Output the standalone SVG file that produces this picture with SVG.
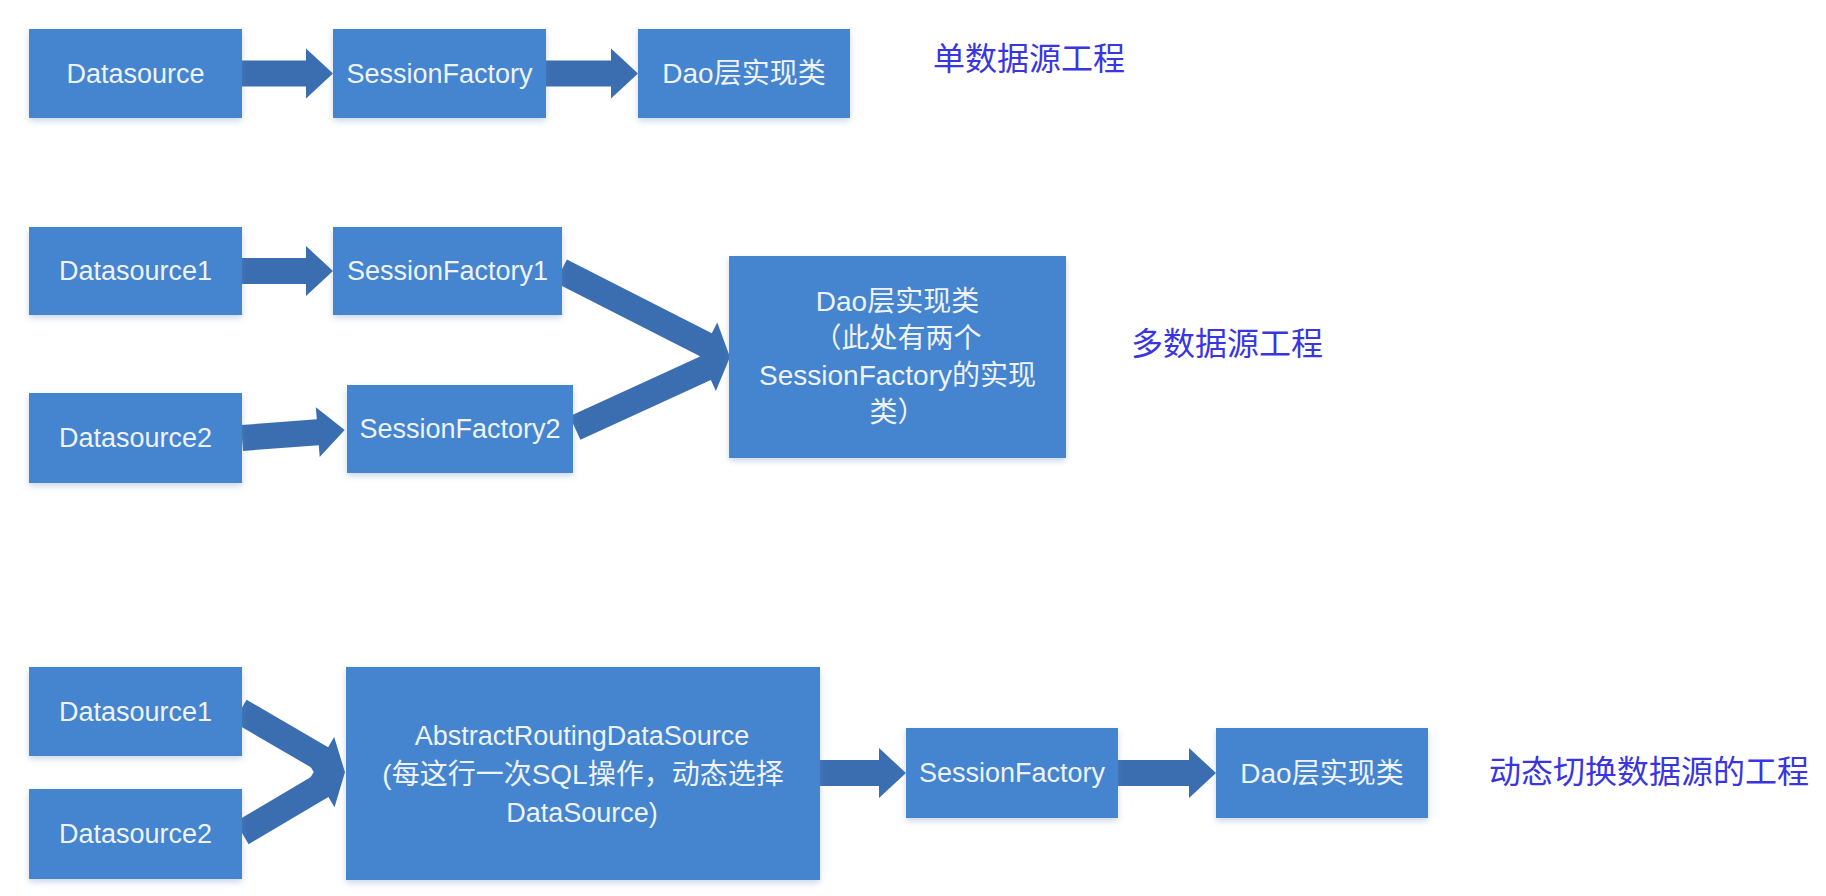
<svg xmlns="http://www.w3.org/2000/svg" width="1826" height="896" viewBox="0 0 1826 896">
  <defs>
    <filter id="sh" x="-10%" y="-10%" width="120%" height="130%">
      <feDropShadow dx="0" dy="3" stdDeviation="3" flood-color="#6a8fc0" flood-opacity="0.35"/>
    </filter>
  </defs>
  <style>
    .box { fill: #4584ce; filter: url(#sh); }
    .arr { fill: #3a6eb1; }
    .lbl { font-family: "Liberation Sans", "Noto Sans CJK SC", sans-serif; font-size: 27px; fill: #eef3fa; text-anchor: middle; }
    .cjk { font-size: 28px; }
    .title { font-family: "Noto Sans CJK SC", "Noto Sans", sans-serif; font-size: 32px; fill: #3a35e0; }
  </style>
  <rect width="1826" height="896" fill="#ffffff"/>

  <g id="connectors">
    <!-- single datasource -->
    <path class="arr" transform="translate(242,73.5)" d="M0,-13 H64 V-25 L91,0 L64,25 V13 H0 Z"/>
    <path class="arr" transform="translate(546,73.5)" d="M0,-13 H65 V-25 L92,0 L65,25 V13 H0 Z"/>
    <!-- multi datasource -->
    <path class="arr" transform="translate(242,271)" d="M0,-13 H64 V-25 L91,0 L64,25 V13 H0 Z"/>
    <path class="arr" transform="translate(242,438) rotate(-4.4)" d="M0,-13 H76 V-25 L103,0 L76,25 V13 H0 Z"/>
    <path class="arr" transform="translate(561,271) rotate(26.97)" d="M0,-13 H162.6 V-25 L189.6,0 L162.6,25 V13 H0 Z"/>
    <path class="arr" transform="translate(575,428) rotate(-24.6)" d="M0,-13 H143.5 V-25 L170.5,0 L143.5,25 V13 H0 Z"/>
    <!-- dynamic datasource -->
    <path class="arr" transform="translate(240,711) rotate(30.2)" d="M0,-13 H94.4 V-25 L121.4,0 L94.4,25 V13 H0 Z"/>
    <path class="arr" transform="translate(242,833) rotate(-30.6)" d="M0,-13 H92.7 V-25 L119.7,0 L92.7,25 V13 H0 Z"/>
    <path class="arr" transform="translate(820,773)" d="M0,-13 H59 V-25 L86,0 L59,25 V13 H0 Z"/>
    <path class="arr" transform="translate(1118,773)" d="M0,-13 H71 V-25 L98,0 L71,25 V13 H0 Z"/>
  </g>

  <!-- single datasource project -->
  <g id="s-datasource">
    <rect class="box" x="29" y="29" width="213" height="89"/>
    <text class="lbl" x="135.5" y="82.5">Datasource</text>
  </g>
  <g id="s-sessionfactory">
    <rect class="box" x="333" y="29" width="213" height="89"/>
    <text class="lbl" x="439.5" y="82.5">SessionFactory</text>
  </g>
  <g id="s-dao">
    <rect class="box" x="638" y="29" width="212" height="89"/>
    <text class="lbl cjk" x="744" y="83">Dao层实现类</text>
  </g>
  <g id="t-single">
    <text class="title" x="933" y="70">单数据源工程</text>
  </g>

  <!-- multi datasource project -->
  <g id="m-datasource1">
    <rect class="box" x="29" y="227" width="213" height="88"/>
    <text class="lbl" x="135.5" y="280">Datasource1</text>
  </g>
  <g id="m-sessionfactory1">
    <rect class="box" x="333" y="227" width="229" height="88"/>
    <text class="lbl" x="447.5" y="280">SessionFactory1</text>
  </g>
  <g id="m-datasource2">
    <rect class="box" x="29" y="393" width="213" height="90"/>
    <text class="lbl" x="135.5" y="447">Datasource2</text>
  </g>
  <g id="m-sessionfactory2">
    <rect class="box" x="347" y="385" width="226" height="88"/>
    <text class="lbl" x="460" y="438">SessionFactory2</text>
  </g>
  <g id="m-dao">
    <rect class="box" x="729" y="256" width="337" height="202"/>
    <text class="lbl cjk" x="897.5" y="311">Dao层实现类</text>
    <text class="lbl cjk" x="897.5" y="348">（此处有两个</text>
    <text class="lbl cjk" x="897.5" y="385">SessionFactory的实现</text>
    <text class="lbl cjk" x="897.5" y="422">类）</text>
  </g>
  <g id="t-multi">
    <text class="title" x="1131" y="355">多数据源工程</text>
  </g>

  <!-- dynamic switching project -->
  <g id="d-datasource1">
    <rect class="box" x="29" y="667" width="213" height="89"/>
    <text class="lbl" x="135.5" y="720.5">Datasource1</text>
  </g>
  <g id="d-datasource2">
    <rect class="box" x="29" y="789" width="213" height="90"/>
    <text class="lbl" x="135.5" y="843">Datasource2</text>
  </g>
  <g id="d-routing">
    <rect class="box" x="346" y="667" width="474" height="213"/>
    <text class="lbl" x="582" y="745">AbstractRoutingDataSource</text>
    <text class="lbl cjk" x="583" y="784">(每这行一次SQL操作，动态选择</text>
    <text class="lbl" x="582" y="822">DataSource)</text>
  </g>
  <g id="d-sessionfactory">
    <rect class="box" x="906" y="728" width="212" height="90"/>
    <text class="lbl" x="1012" y="782">SessionFactory</text>
  </g>
  <g id="d-dao">
    <rect class="box" x="1216" y="728" width="212" height="90"/>
    <text class="lbl cjk" x="1322" y="782.5">Dao层实现类</text>
  </g>
  <g id="t-dynamic">
    <text class="title" x="1489" y="783">动态切换数据源的工程</text>
  </g>
</svg>
